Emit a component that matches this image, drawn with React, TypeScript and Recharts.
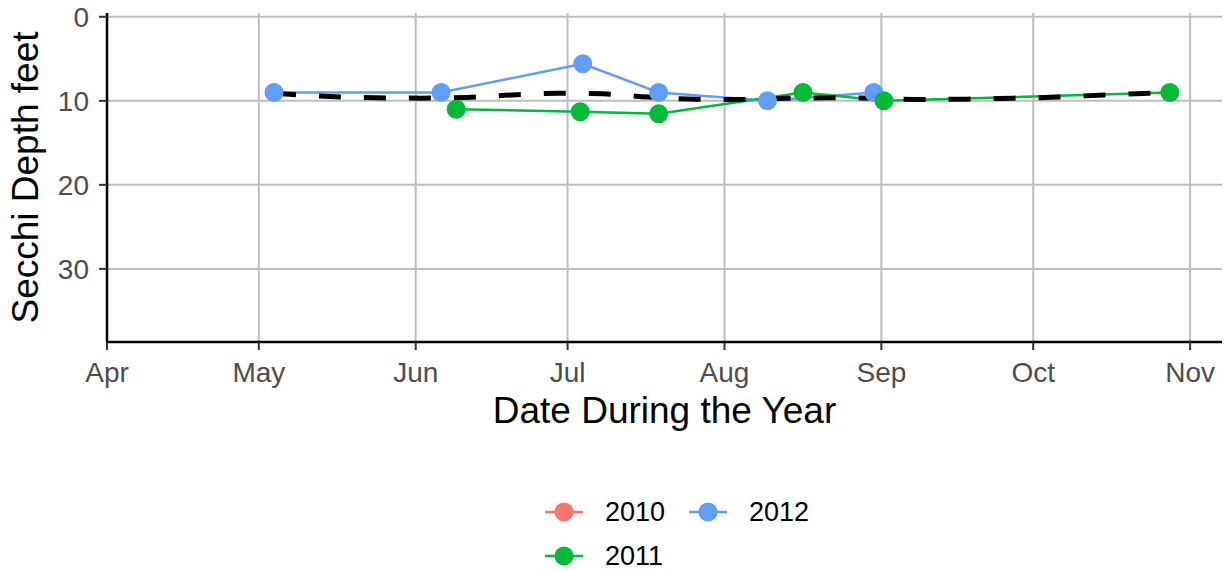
import React from 'react';
import { ComposedChart, Line, XAxis, YAxis, CartesianGrid } from 'recharts';

// Month tick labels and their day-of-year positions
const monthLabels = ['Apr', 'May', 'Jun', 'Jul', 'Aug', 'Sep', 'Oct', 'Nov'];
const monthDays = [91, 121, 152, 182, 213, 244, 274, 305];
const depthTicks = [0, 10, 20, 30];

// Legend years and colours
const years = ['2010', '2011', '2012'];
const yearColors = ['#F8766D', '#00BA38', '#619CFF'];

// 2011 observations (day of year, Secchi depth ft)
const days2011 = [160, 184.5, 200, 228.5, 244.5, 301];
const depth2011 = [11, 11.3, 11.55, 9, 10, 9];

// 2012 observations
const days2012 = [124, 157, 185, 200, 221.5, 242.5];
const depth2012 = [9, 9, 5.6, 9, 10, 9];

// Overall smoothed trend (dashed)
const trendDays = [124, 135, 144, 153, 162, 171, 180, 189, 198, 207, 216, 225, 234, 243, 252, 261, 270, 279, 288, 297, 301];
const trendDepth = [9.1, 9.5, 9.64, 9.68, 9.6, 9.3, 9.1, 9.17, 9.56, 9.8, 9.84, 9.7, 9.64, 9.7, 9.84, 9.8, 9.68, 9.56, 9.3, 9.1, 9.0];

const zip = (xs: number[], ys: number[]) => xs.map((d, i) => ({ day: d, depth: ys[i] }));
const data2011 = zip(days2011, depth2011);
const data2012 = zip(days2012, depth2012);
const trendData = zip(trendDays, trendDepth);

const monthName = (v: number) => {
  const i = monthDays.indexOf(v);
  return i >= 0 ? monthLabels[i] : '';
};

const FONT = '"Liberation Sans", Arial, Helvetica, sans-serif';
const TITLE_SIZE = 37;
const TICK_SIZE = 28;
const LEGEND_SIZE = 27;

const XTitle = (props: any) => {
  const vb = props.viewBox || { x: 107, y: 342, width: 1115, height: 229 };
  return (
    <text x={vb.x + vb.width / 2} y={vb.y + 81} textAnchor="middle" fontSize={TITLE_SIZE} fill="#000" fontFamily={FONT}>
      Date During the Year
    </text>
  );
};

const YTitle = (props: any) => {
  const vb = props.viewBox || { x: 0, y: 13, width: 107, height: 329 };
  const cx = 38;
  const cy = vb.y + vb.height / 2;
  return (
    <text x={cx} y={cy} transform={`rotate(-90, ${cx}, ${cy})`} textAnchor="middle" fontSize={TITLE_SIZE} fill="#000" fontFamily={FONT}>
      Secchi Depth feet
    </text>
  );
};

const LegendBox = () => {
  const order = [0, 1, 2];
  return (
    <div
      style={{
        position: 'absolute',
        left: 545,
        top: 490,
        display: 'grid',
        gridTemplateRows: '44px 44px',
        gridTemplateColumns: '144px auto',
        gridAutoFlow: 'column',
        fontFamily: FONT,
        fontSize: LEGEND_SIZE,
        color: '#000',
      }}
    >
      {order.map((i) => (
        <div key={years[i]} style={{ display: 'flex', alignItems: 'center', height: 44 }}>
          <svg width={38} height={44} style={{ display: 'block' }}>
            <line x1={0} x2={38} y1={22} y2={22} stroke={yearColors[i]} strokeWidth={2.5} />
            <circle cx={19} cy={22} r={9.5} fill={yearColors[i]} />
          </svg>
          <span style={{ marginLeft: 22, lineHeight: '44px' }}>{years[i]}</span>
        </div>
      ))}
    </div>
  );
};

export default function App() {
  return (
    <div style={{ position: 'absolute', left: 0, top: 0, width: 1231, height: 571, background: '#fff', fontFamily: FONT }}>
      <ComposedChart width={1231} height={571} margin={{ top: 13, right: 9, left: 0, bottom: 0 }}>
        <CartesianGrid stroke="#BEBEBE" strokeWidth={2} horizontalValues={depthTicks} verticalValues={monthDays} />
        <XAxis
          dataKey="day"
          type="number"
          domain={[91, 311.3]}
          ticks={monthDays}
          tickFormatter={monthName}
          allowDataOverflow
          height={229}
          tickSize={8}
          tickMargin={12}
          tick={{ fill: '#4D4D4D', fontSize: TICK_SIZE, fontFamily: FONT }}
          tickLine={{ stroke: '#333333', strokeWidth: 2 }}
          axisLine={{ stroke: '#000', strokeWidth: 2.5 }}
          label={<XTitle />}
        />
        <YAxis
          dataKey="depth"
          type="number"
          reversed
          domain={[-0.45, 38.7]}
          ticks={depthTicks}
          allowDataOverflow
          width={107}
          tickSize={8}
          tickMargin={10}
          tick={{ fill: '#4D4D4D', fontSize: TICK_SIZE, fontFamily: FONT }}
          tickLine={{ stroke: '#333333', strokeWidth: 2 }}
          axisLine={{ stroke: '#000', strokeWidth: 2.5 }}
          label={<YTitle />}
        />
        <Line
          data={data2012}
          dataKey="depth"
          stroke={yearColors[2]}
          strokeWidth={2.5}
          dot={{ r: 9.5, fill: yearColors[2], stroke: yearColors[2], strokeWidth: 0 }}
          activeDot={false}
          isAnimationActive={false}
          type="linear"
        />
        <Line
          data={data2011}
          dataKey="depth"
          stroke={yearColors[1]}
          strokeWidth={2.5}
          dot={{ r: 9.5, fill: yearColors[1], stroke: yearColors[1], strokeWidth: 0 }}
          activeDot={false}
          isAnimationActive={false}
          type="linear"
        />
        <Line
          data={trendData}
          dataKey="depth"
          stroke="#000"
          strokeWidth={5}
          strokeDasharray="22 23"
          dot={false}
          activeDot={false}
          isAnimationActive={false}
          type="monotone"
        />
      </ComposedChart>
      <LegendBox />
    </div>
  );
}
